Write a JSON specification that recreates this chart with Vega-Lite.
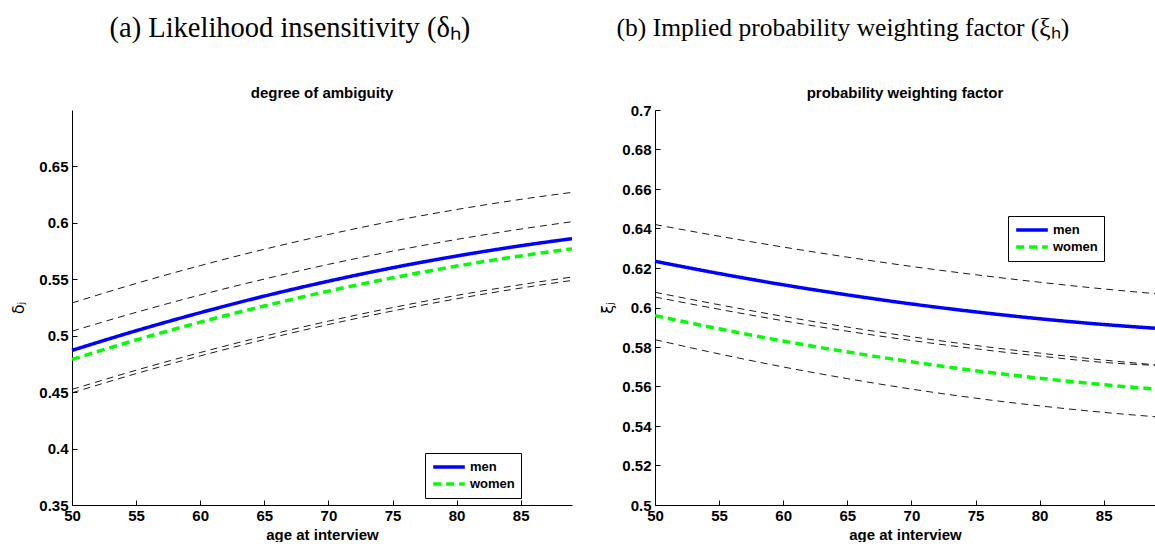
{
  "$schema": "https://vega.github.io/schema/vega-lite/v6.json",
  "background": "white",
  "padding": {"left": 10, "top": 13, "right": 0, "bottom": 0},
  "spacing": 20,
  "config": {
    "view": {"stroke": null},
    "font": "Liberation Sans",
    "legend": {
      "orient": "none",
      "strokeColor": "black",
      "fillColor": "white",
      "padding": 6,
      "symbolType": "stroke",
      "symbolStrokeWidth": 3.5,
      "symbolSize": 1000,
      "clipHeight": 16,
      "labelFont": "Liberation Sans",
      "labelFontSize": 13,
      "labelFontWeight": "bold",
      "labelColor": "black",
      "labelOffset": 3,
      "rowPadding": 1
    }
  },
  "datasets": {
    "delta": [
      {"age": 50, "curve": "up2", "kind": "band", "value": 0.529},
      {"age": 55, "curve": "up2", "kind": "band", "value": 0.5463},
      {"age": 60, "curve": "up2", "kind": "band", "value": 0.5621},
      {"age": 65, "curve": "up2", "kind": "band", "value": 0.5766},
      {"age": 70, "curve": "up2", "kind": "band", "value": 0.5897},
      {"age": 75, "curve": "up2", "kind": "band", "value": 0.6015},
      {"age": 80, "curve": "up2", "kind": "band", "value": 0.6118},
      {"age": 85, "curve": "up2", "kind": "band", "value": 0.6208},
      {"age": 89, "curve": "up2", "kind": "band", "value": 0.627},
      {"age": 50, "curve": "up1", "kind": "band", "value": 0.504},
      {"age": 55, "curve": "up1", "kind": "band", "value": 0.5207},
      {"age": 60, "curve": "up1", "kind": "band", "value": 0.5361},
      {"age": 65, "curve": "up1", "kind": "band", "value": 0.5502},
      {"age": 70, "curve": "up1", "kind": "band", "value": 0.5632},
      {"age": 75, "curve": "up1", "kind": "band", "value": 0.5749},
      {"age": 80, "curve": "up1", "kind": "band", "value": 0.5853},
      {"age": 85, "curve": "up1", "kind": "band", "value": 0.5945},
      {"age": 89, "curve": "up1", "kind": "band", "value": 0.601},
      {"age": 50, "curve": "men", "kind": "main", "value": 0.487},
      {"age": 55, "curve": "men", "kind": "main", "value": 0.5044},
      {"age": 60, "curve": "men", "kind": "main", "value": 0.5204},
      {"age": 65, "curve": "men", "kind": "main", "value": 0.5351},
      {"age": 70, "curve": "men", "kind": "main", "value": 0.5483},
      {"age": 75, "curve": "men", "kind": "main", "value": 0.5602},
      {"age": 80, "curve": "men", "kind": "main", "value": 0.5706},
      {"age": 85, "curve": "men", "kind": "main", "value": 0.5797},
      {"age": 89, "curve": "men", "kind": "main", "value": 0.586},
      {"age": 50, "curve": "women", "kind": "main", "value": 0.479},
      {"age": 55, "curve": "women", "kind": "main", "value": 0.4962},
      {"age": 60, "curve": "women", "kind": "main", "value": 0.512},
      {"age": 65, "curve": "women", "kind": "main", "value": 0.5264},
      {"age": 70, "curve": "women", "kind": "main", "value": 0.5395},
      {"age": 75, "curve": "women", "kind": "main", "value": 0.5513},
      {"age": 80, "curve": "women", "kind": "main", "value": 0.5617},
      {"age": 85, "curve": "women", "kind": "main", "value": 0.5707},
      {"age": 89, "curve": "women", "kind": "main", "value": 0.577},
      {"age": 50, "curve": "lo1", "kind": "band", "value": 0.4524},
      {"age": 55, "curve": "lo1", "kind": "band", "value": 0.4694},
      {"age": 60, "curve": "lo1", "kind": "band", "value": 0.4851},
      {"age": 65, "curve": "lo1", "kind": "band", "value": 0.4996},
      {"age": 70, "curve": "lo1", "kind": "band", "value": 0.5129},
      {"age": 75, "curve": "lo1", "kind": "band", "value": 0.5249},
      {"age": 80, "curve": "lo1", "kind": "band", "value": 0.5357},
      {"age": 85, "curve": "lo1", "kind": "band", "value": 0.5452},
      {"age": 89, "curve": "lo1", "kind": "band", "value": 0.552},
      {"age": 50, "curve": "lo2", "kind": "band", "value": 0.4494},
      {"age": 55, "curve": "lo2", "kind": "band", "value": 0.4664},
      {"age": 60, "curve": "lo2", "kind": "band", "value": 0.4821},
      {"age": 65, "curve": "lo2", "kind": "band", "value": 0.4966},
      {"age": 70, "curve": "lo2", "kind": "band", "value": 0.5099},
      {"age": 75, "curve": "lo2", "kind": "band", "value": 0.5219},
      {"age": 80, "curve": "lo2", "kind": "band", "value": 0.5327},
      {"age": 85, "curve": "lo2", "kind": "band", "value": 0.5422},
      {"age": 89, "curve": "lo2", "kind": "band", "value": 0.549}
    ],
    "xi": [
      {"age": 50, "curve": "up", "kind": "band", "value": 0.642},
      {"age": 55, "curve": "up", "kind": "band", "value": 0.6361},
      {"age": 60, "curve": "up", "kind": "band", "value": 0.6306},
      {"age": 65, "curve": "up", "kind": "band", "value": 0.6255},
      {"age": 70, "curve": "up", "kind": "band", "value": 0.6208},
      {"age": 75, "curve": "up", "kind": "band", "value": 0.6166},
      {"age": 80, "curve": "up", "kind": "band", "value": 0.6128},
      {"age": 85, "curve": "up", "kind": "band", "value": 0.6094},
      {"age": 89, "curve": "up", "kind": "band", "value": 0.607},
      {"age": 50, "curve": "men", "kind": "main", "value": 0.6234},
      {"age": 55, "curve": "men", "kind": "main", "value": 0.6172},
      {"age": 60, "curve": "men", "kind": "main", "value": 0.6115},
      {"age": 65, "curve": "men", "kind": "main", "value": 0.6064},
      {"age": 70, "curve": "men", "kind": "main", "value": 0.6018},
      {"age": 75, "curve": "men", "kind": "main", "value": 0.5978},
      {"age": 80, "curve": "men", "kind": "main", "value": 0.5943},
      {"age": 85, "curve": "men", "kind": "main", "value": 0.5914},
      {"age": 89, "curve": "men", "kind": "main", "value": 0.5895},
      {"age": 50, "curve": "midA", "kind": "band", "value": 0.6077},
      {"age": 55, "curve": "midA", "kind": "band", "value": 0.6014},
      {"age": 60, "curve": "midA", "kind": "band", "value": 0.5955},
      {"age": 65, "curve": "midA", "kind": "band", "value": 0.5901},
      {"age": 70, "curve": "midA", "kind": "band", "value": 0.5852},
      {"age": 75, "curve": "midA", "kind": "band", "value": 0.5808},
      {"age": 80, "curve": "midA", "kind": "band", "value": 0.5769},
      {"age": 85, "curve": "midA", "kind": "band", "value": 0.5734},
      {"age": 89, "curve": "midA", "kind": "band", "value": 0.571},
      {"age": 50, "curve": "midB", "kind": "band", "value": 0.6053},
      {"age": 55, "curve": "midB", "kind": "band", "value": 0.5991},
      {"age": 60, "curve": "midB", "kind": "band", "value": 0.5933},
      {"age": 65, "curve": "midB", "kind": "band", "value": 0.588},
      {"age": 70, "curve": "midB", "kind": "band", "value": 0.5833},
      {"age": 75, "curve": "midB", "kind": "band", "value": 0.5791},
      {"age": 80, "curve": "midB", "kind": "band", "value": 0.5754},
      {"age": 85, "curve": "midB", "kind": "band", "value": 0.5722},
      {"age": 89, "curve": "midB", "kind": "band", "value": 0.5707},
      {"age": 50, "curve": "women", "kind": "main", "value": 0.5959},
      {"age": 55, "curve": "women", "kind": "main", "value": 0.5892},
      {"age": 60, "curve": "women", "kind": "main", "value": 0.583},
      {"age": 65, "curve": "women", "kind": "main", "value": 0.5775},
      {"age": 70, "curve": "women", "kind": "main", "value": 0.5725},
      {"age": 75, "curve": "women", "kind": "main", "value": 0.568},
      {"age": 80, "curve": "women", "kind": "main", "value": 0.5642},
      {"age": 85, "curve": "women", "kind": "main", "value": 0.5609},
      {"age": 89, "curve": "women", "kind": "main", "value": 0.5587},
      {"age": 50, "curve": "lo", "kind": "band", "value": 0.5837},
      {"age": 55, "curve": "lo", "kind": "band", "value": 0.5765},
      {"age": 60, "curve": "lo", "kind": "band", "value": 0.5699},
      {"age": 65, "curve": "lo", "kind": "band", "value": 0.564},
      {"age": 70, "curve": "lo", "kind": "band", "value": 0.5587},
      {"age": 75, "curve": "lo", "kind": "band", "value": 0.5541},
      {"age": 80, "curve": "lo", "kind": "band", "value": 0.5502},
      {"age": 85, "curve": "lo", "kind": "band", "value": 0.5469},
      {"age": 89, "curve": "lo", "kind": "band", "value": 0.5447}
    ]
  },
  "hconcat": [
    {
      "title": {"text": "(a) Likelihood insensitivity (δₕ)", "font": "Liberation Serif", "fontSize": 28.5, "fontWeight": "normal", "color": "black", "anchor": "middle", "offset": 44, "dx": -5},
      "hconcat": [
        {
          "width": 500,
          "height": 395,
          "title": {"text": "degree of ambiguity", "font": "Liberation Sans", "fontSize": 15, "fontWeight": "bold", "color": "black", "anchor": "middle", "frame": "group", "offset": 9},
          "data": {"name": "delta"},
          "encoding": {
            "x": {"field": "age", "type": "quantitative", "scale": {"domain": [50, 89], "nice": false, "zero": false},
              "axis": {"title": "age at interview", "values": [50, 55, 60, 65, 70, 75, 80, 85], "grid": false, "domainColor": "black", "tickColor": "black", "tickSize": -5, "labelPadding": 8, "labelFont": "Liberation Sans", "labelFontSize": 15, "labelFontWeight": "bold", "labelColor": "black", "labelFlush": false, "labelOverlap": false, "titleFont": "Liberation Sans", "titleFontSize": 15, "titleFontWeight": "bold", "titleColor": "black", "titlePadding": 4}},
            "y": {"field": "value", "type": "quantitative", "scale": {"domain": [0.35, 0.7], "nice": false, "zero": false},
              "axis": {"title": "δⱼ", "format": "~g", "values": [0.35, 0.4, 0.45, 0.5, 0.55, 0.6, 0.65], "grid": false, "domainColor": "black", "tickColor": "black", "tickSize": -5, "labelPadding": 9, "labelFont": "Liberation Sans", "labelFontSize": 15, "labelFontWeight": "bold", "labelColor": "black", "labelFlush": false, "labelOverlap": false, "titleFont": "DejaVu Sans", "titleFontSize": 16, "titleFontWeight": "normal", "titleColor": "black", "titlePadding": 12}}
          },
          "layer": [
            {
              "transform": [{"filter": "datum.kind == 'band'"}],
              "mark": {"type": "line", "color": "black", "strokeWidth": 0.9, "strokeDash": [7, 5], "interpolate": "monotone"},
              "encoding": {"detail": {"field": "curve"}}
            },
            {
              "transform": [{"filter": "datum.kind == 'main'"}],
              "mark": {"type": "line", "strokeWidth": 3.5, "interpolate": "monotone"},
              "encoding": {
                "color": {"field": "curve", "type": "nominal", "scale": {"domain": ["men", "women"], "range": ["#0000ff", "#00ff00"]}, "legend": {"title": null, "legendX": 353, "legendY": 343}},
                "strokeDash": {"field": "curve", "type": "nominal", "scale": {"domain": ["men", "women"], "range": [[1, 0], [8, 5]]}, "legend": {"title": null, "legendX": 353, "legendY": 343}}
              }
            }
          ]
        }
      ]
    },
    {
      "title": {"text": "(b) Implied probability weighting factor (ξₕ)", "font": "Liberation Serif", "fontSize": 25.5, "fontWeight": "normal", "color": "black", "anchor": "middle", "offset": 45, "dx": -38},
      "hconcat": [
        {
          "width": 500,
          "height": 395,
          "title": {"text": "probability weighting factor", "font": "Liberation Sans", "fontSize": 15, "fontWeight": "bold", "color": "black", "anchor": "middle", "frame": "group", "offset": 2},
          "data": {"name": "xi"},
          "encoding": {
            "x": {"field": "age", "type": "quantitative", "scale": {"domain": [50, 89], "nice": false, "zero": false},
              "axis": {"title": "age at interview", "values": [50, 55, 60, 65, 70, 75, 80, 85], "grid": false, "domainColor": "black", "tickColor": "black", "tickSize": -5, "labelPadding": 8, "labelFont": "Liberation Sans", "labelFontSize": 15, "labelFontWeight": "bold", "labelColor": "black", "labelFlush": false, "labelOverlap": false, "titleFont": "Liberation Sans", "titleFontSize": 15, "titleFontWeight": "bold", "titleColor": "black", "titlePadding": 4}},
            "y": {"field": "value", "type": "quantitative", "scale": {"domain": [0.5, 0.7], "nice": false, "zero": false},
              "axis": {"title": "ξⱼ", "format": "~g", "values": [0.5, 0.52, 0.54, 0.56, 0.58, 0.6, 0.62, 0.64, 0.66, 0.68, 0.7], "grid": false, "domainColor": "black", "tickColor": "black", "tickSize": -5, "labelPadding": 9, "labelFont": "Liberation Sans", "labelFontSize": 15, "labelFontWeight": "bold", "labelColor": "black", "labelFlush": false, "labelOverlap": false, "titleFont": "DejaVu Sans", "titleFontSize": 16, "titleFontWeight": "normal", "titleColor": "black", "titlePadding": 6}}
          },
          "layer": [
            {
              "transform": [{"filter": "datum.kind == 'band'"}],
              "mark": {"type": "line", "color": "black", "strokeWidth": 0.9, "strokeDash": [7, 5], "interpolate": "monotone"},
              "encoding": {"detail": {"field": "curve"}}
            },
            {
              "transform": [{"filter": "datum.kind == 'main'"}],
              "mark": {"type": "line", "strokeWidth": 3.5, "interpolate": "monotone"},
              "encoding": {
                "color": {"field": "curve", "type": "nominal", "scale": {"domain": ["men", "women"], "range": ["#0000ff", "#00ff00"]}, "legend": {"title": null, "legendX": 353, "legendY": 106}},
                "strokeDash": {"field": "curve", "type": "nominal", "scale": {"domain": ["men", "women"], "range": [[1, 0], [8, 5]]}, "legend": {"title": null, "legendX": 353, "legendY": 106}}
              }
            }
          ]
        }
      ]
    }
  ],
  "resolve": {"scale": {"color": "independent", "strokeDash": "independent"}}
}
